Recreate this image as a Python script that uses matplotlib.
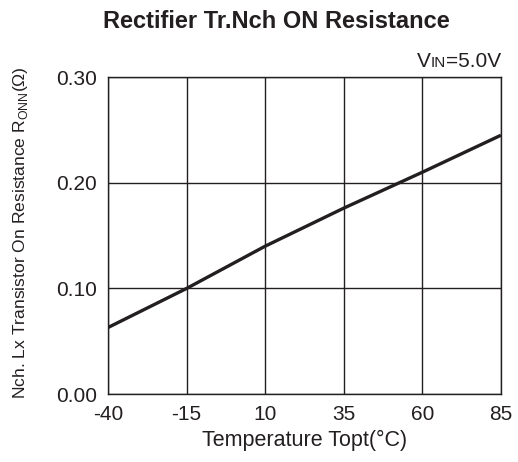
import matplotlib
matplotlib.use("Agg")
import matplotlib.pyplot as plt

plt.rcParams['font.family'] = ['Liberation Sans', 'DejaVu Sans']

# data
temp = [-40, -15, 10, 35, 60, 85]
ronn = [0.063, 0.100, 0.140, 0.176, 0.210, 0.245]
xticks = [-40, -15, 10, 35, 60, 85]
yticks = [0.00, 0.10, 0.20, 0.30]

ink = '#231f20'

fig = plt.figure(figsize=(5.18, 4.62), dpi=100)
ax = fig.add_axes([0.2085, 0.147, 0.7585, 0.686])

ax.plot(temp, ronn, color=ink, lw=2.4, solid_capstyle='butt', zorder=3)

ax.set_xlim(-40, 85)
ax.set_ylim(0, 0.30)
ax.set_xticks(xticks)
ax.set_yticks(yticks)
ax.set_xticklabels([str(t) for t in xticks])
ax.set_yticklabels(['%.2f' % v for v in yticks])
ax.tick_params(length=0, labelsize=15, colors=ink, pad=8)
ax.grid(True, color=ink, lw=1.0)
for s in ax.spines.values():
  s.set_color(ink)
  s.set_linewidth(1.0)

ax.set_xlabel('Temperature Topt(\u00b0C)', fontsize=15.5, color=ink, labelpad=4)
fig.text(21 / 518, 1 - 233 / 462,
         r'Nch. Lx Transistor On Resistance R$_{\mathregular{ONN}}$' + '(\u03a9)',
         rotation=90, ha='center', va='center', fontsize=12.6, color=ink)

fig.text(276 / 518, 1 - 22 / 462, 'Rectifier Tr.Nch ON Resistance', ha='center', va='center',
         fontsize=17, fontweight='bold', color=ink)

# V_IN=5.0V with small caps "IN" on the baseline
fig.canvas.draw()
r = fig.canvas.get_renderer()
base = 1 - 67 / 462
t3 = fig.text(0.967, base, '=5.0V', ha='right', va='baseline', fontsize=15, color=ink)
x3 = t3.get_window_extent(r).x0 / fig.bbox.width
t2 = fig.text(x3, base, 'IN', ha='right', va='baseline', fontsize=11, color=ink)
x2 = t2.get_window_extent(r).x0 / fig.bbox.width
fig.text(x2, base, 'V', ha='right', va='baseline', fontsize=15, color=ink)

fig.savefig('out.png', dpi=100)
